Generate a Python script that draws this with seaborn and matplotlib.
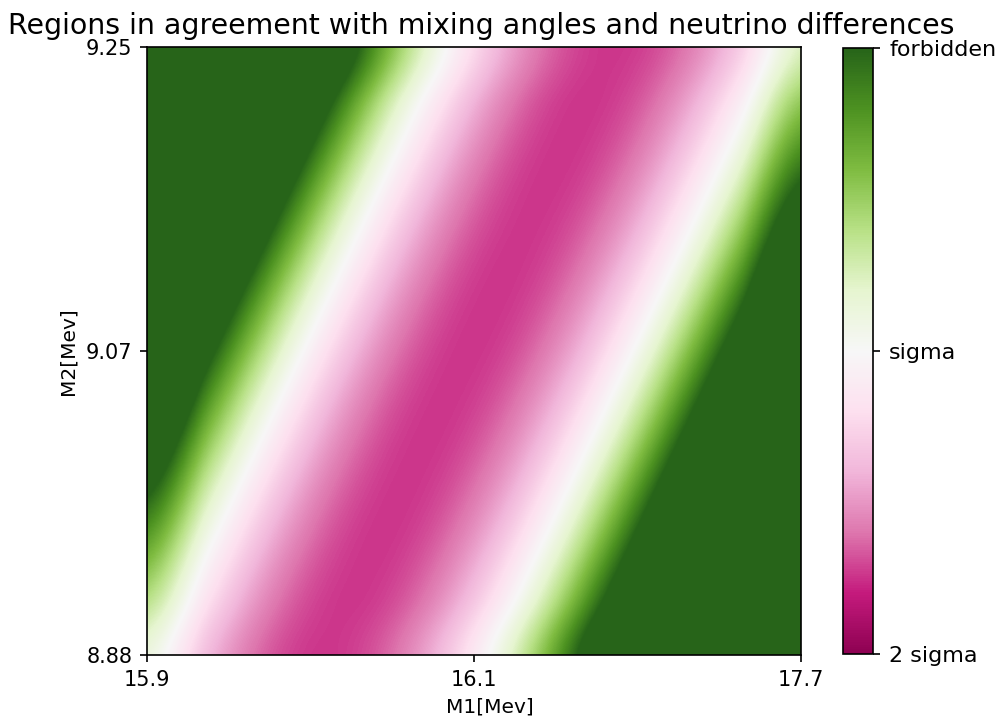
import seaborn as sns
import matplotlib.pyplot as plt
import numpy as np

# values on an 11 x 11 grid (rows from top M2=9.25 down to M2=8.88,
# columns from M1=15.9 to M1=17.7); 0 = "2 sigma", 0.5 = "sigma", >=1 = "forbidden"
row_m2_925 = [3.072, 2.303, 1.650, 1.113, 0.693, 0.389, 0.202, 0.131, 0.176, 0.338, 0.616]
row_m2_921 = [2.720, 2.002, 1.400, 0.914, 0.545, 0.293, 0.156, 0.136, 0.233, 0.446, 0.775]
row_m2_918 = [2.390, 1.723, 1.172, 0.738, 0.420, 0.218, 0.133, 0.164, 0.312, 0.576, 0.956]
row_m2_914 = [2.084, 1.468, 0.968, 0.584, 0.317, 0.167, 0.133, 0.215, 0.413, 0.728, 1.160]
row_m2_910 = [1.799, 1.234, 0.785, 0.453, 0.237, 0.137, 0.154, 0.288, 0.537, 0.903, 1.386]
row_m2_907 = [1.537, 1.023, 0.625, 0.344, 0.179, 0.130, 0.198, 0.383, 0.684, 1.101, 1.634]
row_m2_903 = [1.296, 0.834, 0.487, 0.257, 0.143, 0.146, 0.265, 0.501, 0.852, 1.321, 1.905]
row_m2_899 = [1.079, 0.667, 0.372, 0.193, 0.130, 0.184, 0.354, 0.641, 1.044, 1.563, 2.199]
row_m2_895 = [0.884, 0.523, 0.279, 0.151, 0.139, 0.244, 0.465, 0.803, 1.257, 1.827, 2.514]
row_m2_892 = [0.712, 0.402, 0.208, 0.132, 0.171, 0.327, 0.599, 0.988, 1.493, 2.114, 2.852]
row_m2_888 = [0.561, 0.303, 0.160, 0.135, 0.225, 0.432, 0.755, 1.195, 1.751, 2.424, 3.213]

grid = np.array([row_m2_925, row_m2_921, row_m2_918, row_m2_914, row_m2_910, row_m2_907,
                 row_m2_903, row_m2_899, row_m2_895, row_m2_892, row_m2_888])

m1_labels = ['15.9', '16.1', '17.7']
m2_labels = ['8.88', '9.07', '9.25']
cbar_labels = ['2 sigma', 'sigma', 'forbidden']

cmap = sns.color_palette("PiYG", as_cmap=True)

fig = plt.figure(figsize=(1002 / 150, 725 / 150), dpi=150)
ax = fig.add_axes([147 / 1002, 70 / 725, 654 / 1002, 608 / 725])
cax = fig.add_axes([843 / 1002, 71 / 725, 30 / 1002, 606 / 725])

half = 0.5 / (grid.shape[1] - 1)
im = ax.imshow(grid, cmap=cmap, vmin=0, vmax=1, aspect='auto',
               extent=[-half, 1 + half, -half, 1 + half],
               interpolation='catrom', interpolation_stage='data')
ax.set_xlim(0, 1)
ax.set_ylim(0, 1)
ax.set_xticks([0, 0.5, 1])
ax.set_xticklabels(m1_labels)
ax.set_yticks([0, 0.5, 1])
ax.set_yticklabels(m2_labels)
ax.set_xlabel('M1[Mev]', fontsize=9.7, x=0.524)
ax.set_ylabel('M2[Mev]', fontsize=9.7)
ax.set_title('Regions in agreement with mixing angles and neutrino differences',
             fontsize=13.65, x=0.511)

cb = fig.colorbar(im, cax=cax, ticks=[0, 0.5, 1])
cb.ax.set_yticklabels(cbar_labels, fontsize=10.7)
cb.ax.tick_params(pad=4.3)

fig.savefig('out.png', dpi=150)
